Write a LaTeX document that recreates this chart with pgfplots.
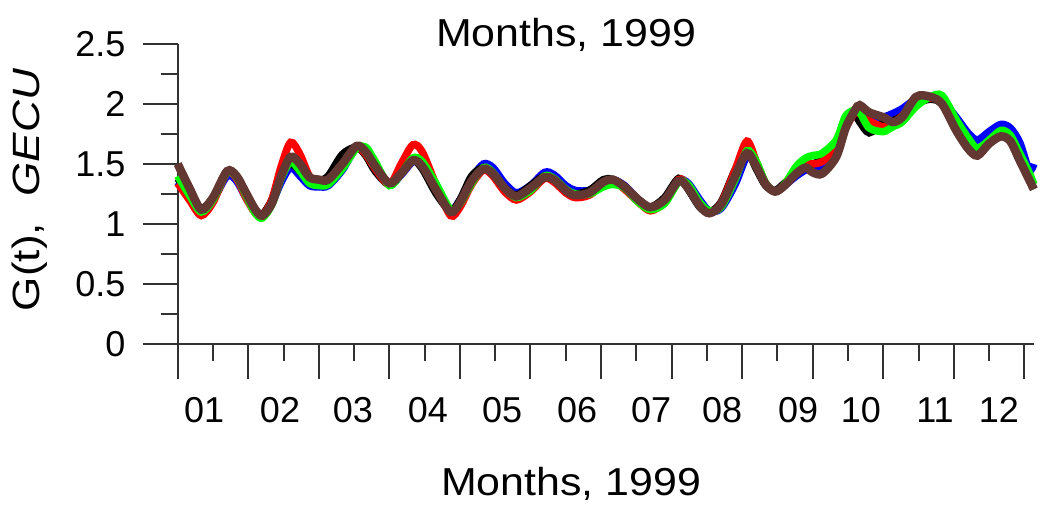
\documentclass[border=0pt]{standalone}
\usepackage{pgfplots}
\pgfplotsset{compat=1.18}
\usepackage{pgfplotstable}
\usepackage{fontspec}
\setmainfont{Liberation Sans}
\definecolor{mybrown}{RGB}{99,55,50}
\definecolor{axgray}{RGB}{50,50,50}
\definecolor{myblue}{RGB}{0,0,255}
\definecolor{myred}{RGB}{255,0,0}
\definecolor{mygreen}{RGB}{0,255,0}

\pgfplotstableread{
d   blue black red  green brown
0   1.35 1.38 1.34 1.40 1.50
5   1.22 1.25 1.20 1.24 1.30
10  1.12 1.13 1.07 1.10 1.12
15  1.20 1.22 1.18 1.20 1.22
21  1.40 1.44 1.43 1.43 1.44
25  1.36 1.40 1.38 1.39 1.40
29  1.22 1.25 1.22 1.24 1.26
33  1.10 1.11 1.09 1.09 1.12
36  1.08 1.08 1.07 1.05 1.07
40  1.17 1.20 1.20 1.16 1.17
44  1.35 1.42 1.48 1.38 1.40
48  1.47 1.50 1.68 1.52 1.56
52  1.40 1.44 1.58 1.44 1.50
56  1.32 1.36 1.40 1.34 1.39
60  1.31 1.36 1.36 1.32 1.37
64  1.32 1.40 1.36 1.33 1.37
70  1.45 1.58 1.50 1.46 1.50
76  1.64 1.64 1.64 1.63 1.65
80  1.62 1.57 1.58 1.64 1.60
84  1.50 1.44 1.46 1.52 1.48
90  1.33 1.33 1.33 1.32 1.34
95  1.41 1.45 1.50 1.42 1.42
100 1.52 1.53 1.66 1.55 1.53
104 1.50 1.46 1.60 1.52 1.48
110 1.32 1.25 1.32 1.33 1.28
116 1.12 1.11 1.07 1.12 1.10
120 1.20 1.20 1.14 1.17 1.18
125 1.38 1.40 1.33 1.34 1.36
130 1.50 1.47 1.45 1.47 1.46
134 1.47 1.41 1.40 1.43 1.42
139 1.34 1.30 1.27 1.30 1.30
144 1.26 1.24 1.20 1.22 1.23
150 1.32 1.32 1.27 1.28 1.30
156 1.43 1.40 1.38 1.40 1.39
160 1.41 1.36 1.35 1.38 1.37
165 1.32 1.27 1.26 1.29 1.28
169 1.28 1.25 1.22 1.25 1.24
175 1.28 1.28 1.24 1.25 1.26
181 1.34 1.37 1.33 1.31 1.35
185 1.37 1.37 1.36 1.33 1.37
190 1.32 1.30 1.29 1.30 1.31
196 1.20 1.19 1.18 1.18 1.20
201 1.14 1.14 1.11 1.12 1.14
207 1.18 1.22 1.18 1.17 1.20
213 1.36 1.38 1.37 1.35 1.36
217 1.34 1.29 1.32 1.33 1.30
222 1.20 1.14 1.16 1.18 1.15
226 1.11 1.10 1.09 1.11 1.09
231 1.13 1.18 1.17 1.14 1.16
237 1.33 1.45 1.45 1.37 1.40
242 1.56 1.60 1.69 1.61 1.59
246 1.50 1.46 1.52 1.52 1.48
250 1.33 1.32 1.34 1.34 1.33
254 1.27 1.28 1.27 1.27 1.27
258 1.32 1.34 1.33 1.33 1.32
263 1.40 1.43 1.46 1.48 1.42
267 1.45 1.48 1.50 1.55 1.47
270 1.46 1.50 1.50 1.57 1.43
274 1.47 1.54 1.52 1.59 1.42
280 1.60 1.68 1.62 1.70 1.56
284 1.85 1.86 1.80 1.90 1.80
288 1.95 1.90 1.93 1.95 1.95
290 1.95 1.85 1.92 1.93 1.99
294 1.87 1.76 1.86 1.80 1.93
300 1.89 1.84 1.81 1.77 1.89
304 1.92 1.86 1.84 1.81 1.85
308 1.96 1.90 1.90 1.85 1.89
314 2.04 2.00 2.03 1.98 2.06
320 2.05 2.04 2.05 2.06 2.06
325 2.03 2.00 2.02 2.07 2.00
331 1.89 1.80 1.82 1.87 1.78
336 1.76 1.64 1.66 1.72 1.63
340 1.70 1.58 1.59 1.63 1.57
345 1.77 1.68 1.68 1.70 1.67
350 1.83 1.74 1.75 1.78 1.73
354 1.80 1.70 1.70 1.74 1.69
358 1.68 1.55 1.55 1.59 1.53
362 1.45 1.38 1.40 1.43 1.37
364 1.50 1.29 1.33 1.33 1.29
}\data

\begin{document}
\begin{tikzpicture}
\begin{axis}[
  at={(177.7pt,164pt)}, anchor=south west,
  scale only axis, width=856.1pt, height=300pt,
  xmin=0, xmax=364, ymin=0, ymax=2.5,
  axis lines*=left,
  axis line style={line width=2pt, axgray},
  tick style={line width=2pt, axgray},
  tick align=outside,
  major tick length=35pt, minor tick length=17pt,
  ytick={0,0.5,1,1.5,2,2.5},
  yticklabels={0,0.5,1,1.5,2,2.5},
  minor ytick={0.25,0.75,1.25,1.75,2.25},
  xtick={0,30,60,90,120,150,180,210,240,270,300,330,360},
  xticklabels={},
  minor xtick={15,45,75,105,135,165,195,225,255,285,315,345},
  extra x ticks={11.2,43.5,74.5,106.4,137.9,169.8,201.3,231.5,263.8,290.5,322,349.2},
  extra x tick labels={01,02,03,04,05,06,07,08,09,10,11,12},
  extra x tick style={major tick length=0pt, xticklabel style={anchor=center, yshift=-66pt}},
  tick label style={font=\fontsize{36}{40}\selectfont, inner sep=0pt},
  yticklabel style={anchor=east, xshift=-17pt},
  clip=false,
]
\addplot[myblue, line width=7.5pt, smooth, tension=0.5] table[x=d, y=blue] {\data};
\addplot[black, line width=7.5pt, smooth, tension=0.5] table[x=d, y=black] {\data};
\addplot[myred, line width=7.5pt, smooth, tension=0.5] table[x=d, y=red] {\data};
\addplot[mygreen, line width=7.5pt, smooth, tension=0.5] table[x=d, y=green] {\data};
\addplot[mybrown, line width=8.5pt, smooth, tension=0.5] table[x=d, y=brown] {\data};
\end{axis}
\node[rotate=90, anchor=base, font=\fontsize{38}{44}\selectfont] at (39pt,318pt) {\scalebox{1.16}[1]{G(t),\hspace{0.6em}\textit{GECU}}};
\node[anchor=base, font=\fontsize{39}{44}\selectfont] at (566pt,461.3pt) {\scalebox{1.1}[1]{Months, 1999}};
\node[anchor=base, font=\fontsize{39}{44}\selectfont] at (571pt,12pt) {\scalebox{1.1}[1]{Months, 1999}};
\pgfresetboundingbox
\path[use as bounding box] (0pt,0pt) rectangle (1045pt,508pt);
\end{tikzpicture}
\end{document}
